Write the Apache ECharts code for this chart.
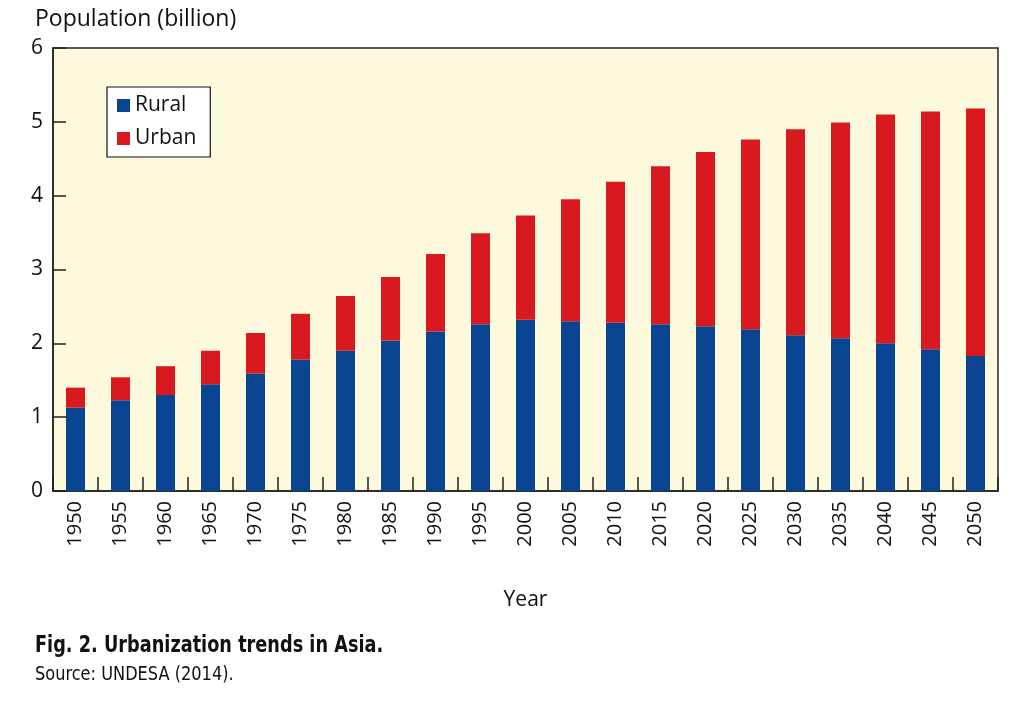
<!DOCTYPE html>
<html>
<head>
<meta charset="utf-8">
<script src="https://cdn.jsdelivr.net/npm/echarts@6/dist/echarts.min.js"></script>
<style>html,body{margin:0;padding:0;background:#fff}#c{width:1024px;height:707px}</style>
</head>
<body>
<div id="c"></div>
<script>
const years = ['1950','1955','1960','1965','1970','1975','1980','1985','1990','1995','2000','2005','2010','2015','2020','2025','2030','2035','2040','2045','2050'];
const rural = [1.13,1.23,1.30,1.445,1.59,1.78,1.90,2.04,2.16,2.26,2.32,2.30,2.28,2.26,2.23,2.19,2.11,2.07,2.00,1.92,1.83];
const urban = [0.27,0.31,0.39,0.455,0.55,0.62,0.74,0.86,1.05,1.23,1.41,1.65,1.91,2.14,2.36,2.57,2.79,2.92,3.10,3.22,3.35];
const yTicks = [0,1,2,3,4,5,6];

const FONT = '"Open Sans", "Noto Sans", sans-serif';
const NARROW = '"DejaVu Sans Condensed", "Liberation Sans Narrow", sans-serif';

const chart = echarts.init(document.getElementById('c'));
chart.setOption({
  backgroundColor: '#ffffff',
  animation: false,
  textStyle: { fontFamily: FONT, color: '#111' },
  title: [
    { text: 'Population (billion)', left: 30, top: 3, textStyle: { fontFamily: FONT, fontSize: 23, fontWeight: 'normal', color: '#111' } }
  ],
  graphic: [
    { type: 'text', left: 35, top: 634, scaleX: 0.895, scaleY: 1.08, style: { text: 'Fig. 2. Urbanization trends in Asia.', font: 'bold 22px ' + NARROW, fill: '#111' } },
    { type: 'text', left: 35, top: 666, scaleX: 1.0, scaleY: 1.05, style: { text: 'Source: UNDESA (2014).', font: '18px ' + NARROW, fill: '#111' } }
  ],
  legend: {
    orient: 'vertical',
    left: 107, top: 87,
    width: 101,
    padding: [8, 14, 8, 10],
    itemGap: 12,
    itemWidth: 13, itemHeight: 13,
    icon: 'rect',
    backgroundColor: '#ffffff',
    borderColor: '#111',
    borderWidth: 1.2,
    textStyle: { fontFamily: FONT, fontSize: 21, color: '#111' },
    data: ['Rural', 'Urban']
  },
  grid: {
    left: 53, right: 26, top: 48, bottom: 216,
    show: true, backgroundColor: '#fdf9dc', borderColor: '#222', borderWidth: 1.5
  },
  xAxis: {
    type: 'category',
    data: years,
    name: 'Year',
    nameLocation: 'middle',
    nameGap: 99,
    nameTextStyle: { fontFamily: FONT, fontSize: 21, color: '#111' },
    axisLine: { lineStyle: { color: '#222', width: 1.5 } },
    axisTick: { show: true, inside: true, length: 14, interval: 0, lineStyle: { color: '#222', width: 1.5 } },
    axisLabel: { interval: 0, rotate: 90, fontFamily: FONT, fontSize: 20, color: '#111', margin: 10 }
  },
  yAxis: {
    type: 'value',
    min: yTicks[0], max: yTicks[yTicks.length - 1], interval: 1,
    axisLine: { show: true, lineStyle: { color: '#222', width: 1.5 } },
    axisTick: { show: true, inside: true, length: 13, lineStyle: { color: '#222', width: 1.5 } },
    splitLine: { show: false },
    axisLabel: { fontFamily: FONT, fontSize: 21, color: '#111', margin: 10 }
  },
  series: [
    { name: 'Rural', type: 'bar', stack: 'pop', data: rural, barWidth: 19, itemStyle: { color: '#08448f' } },
    { name: 'Urban', type: 'bar', stack: 'pop', data: urban, barWidth: 19, itemStyle: { color: '#d81920' } }
  ]
});
</script>
</body>
</html>
